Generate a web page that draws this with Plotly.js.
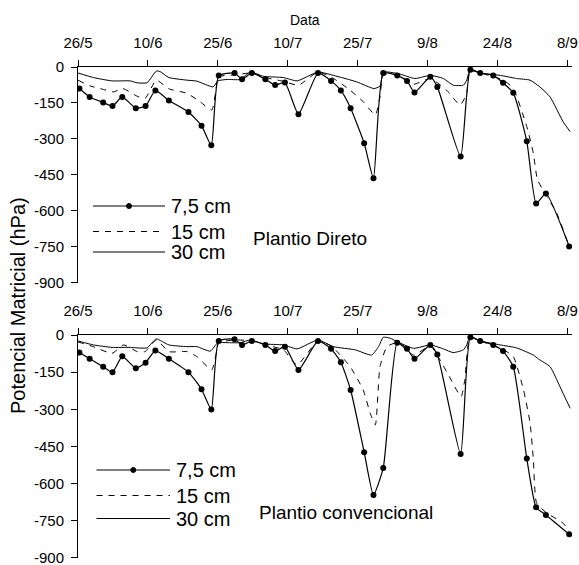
<!DOCTYPE html>
<html><head><meta charset="utf-8">
<script src="https://cdn.plot.ly/plotly-3.0.1.min.js"></script>
<style>html,body{margin:0;padding:0;background:#fff}#chart{width:579px;height:565px}</style>
</head><body><div id="chart"></div>
<script>
// x = days since 26/5
const xTickVals = [0, 15, 30, 45, 60, 75, 90, 105];
const xTickText = ['26/5', '10/6', '25/6', '10/7', '25/7', '9/8', '24/8', '8/9'];
const yTickVals = [0, -150, -300, -450, -600, -750, -900];
const yTickText = ['0', '-150', '-300', '-450', '-600', '-750', '-900'];

const seriesNames = ['7,5 cm', '15 cm', '30 cm'];
const panelNames = ['Plantio Direto', 'Plantio convencional'];

// 7,5 cm (measured points)
const days75 = [0.3, 2.5, 5.4, 7.4, 9.5, 12.4, 14.5, 16.6, 19.5, 23.7, 26.5, 28.6, 30.2, 33.6, 35.2, 37.3, 40.2, 42.3, 44.4, 47.3, 51.5,
  54.3, 56.4, 58.5, 61.4, 63.4, 65.5, 68.5, 70.6, 72.2, 75.6, 77.1, 82.1, 84.2, 86.3, 89.1, 91.2, 93.4, 96.3, 98.3, 100.4, 105.4];
const pd75 = [-90, -125, -148, -163, -125, -172, -163, -98, -140, -188, -245, -327, -36, -25, -51, -25, -51, -75, -65, -197, -25,
  -58, -98, -172, -318, -464, -25, -35, -58, -106, -41, -83, -374, -11, -25, -35, -66, -108, -310, -570, -528, -749];
const pc75 = [-71, -96, -128, -150, -86, -134, -112, -63, -96, -150, -219, -301, -24, -17, -40, -24, -40, -65, -47, -141, -24,
  -56, -110, -222, -473, -646, -537, -31, -56, -96, -40, -79, -481, -9, -24, -40, -65, -128, -499, -696, -727, -805];

// Plantio Direto, 15 cm
const pd15Days = [0, 2.6, 5.5, 7.6, 9.6, 12.7, 14.4, 16.8, 19.5, 23.4, 26.2, 28.7, 29.8, 30.2, 33.7, 37.3, 40.2, 44.1, 47.3, 51.5,
  54.5, 58.4, 61.2, 63.8, 64.8, 65.5, 68.5, 72, 75.6, 79.1, 82, 83.4, 84.1, 86.3, 91.3, 93.4, 96.3, 97.7, 98.6, 100.6, 102.7, 105.4];
const pd15 = [-55, -79, -94, -104, -90, -122, -131, -55, -91, -110, -145, -180, -69, -40, -33, -25, -44, -60, -76, -21,
  -44, -97, -145, -200, -125, -35, -32, -72, -48, -97, -159, -110, -14, -25, -55, -90, -249, -360, -471, -540, -609, -749];

// Plantio Direto, 30 cm
const pd30Days = [0, 3.3, 7.3, 11.2, 12.7, 14.8, 16.8, 17.6, 19.5, 23.4, 25.5, 29, 30, 32, 34.8, 37, 39.8, 44.1, 47, 51.5,
  54.8, 59.8, 63.5, 64.8, 65.5, 66.6, 68.8, 72.3, 75.6, 78.4, 80.5, 82.7, 83.4, 84.1, 86.3, 90.6, 94.1, 97, 99.1, 101.3, 104.1, 105.6];
const pd30 = [-25, -44, -58, -58, -66, -66, -17, -19, -44, -55, -59, -83, -58, -52, -52, -21, -39, -44, -58, -21,
  -35, -62, -90, -80, -21, -21, -28, -48, -35, -48, -76, -76, -55, -14, -25, -35, -48, -55, -83, -125, -229, -270];

// Plantio convencional, 15 cm
const pc15Days = [0, 3.3, 7.3, 9.8, 12.7, 14.4, 16.8, 19.5, 23.4, 25.5, 28.7, 29.8, 30.2, 33.7, 37.3, 40.2, 44.1, 47, 51.5,
  54.5, 58.4, 61.2, 62.7, 63.8, 64.8, 66.3, 68.5, 72, 75.6, 79.1, 82.2, 83, 84.1, 86.3, 91.3, 93.4, 95.6, 97, 97.7, 98.4, 100.6, 104.1, 105.4];
const pc15 = [-28, -47, -74, -40, -67, -67, -20, -67, -67, -87, -141, -60, -31, -20, -24, -40, -60, -121, -24,
  -47, -128, -222, -316, -363, -128, -47, -31, -81, -45, -148, -249, -181, -9, -24, -60, -87, -222, -356, -500, -678, -719, -760, -793];

// Plantio convencional, 30 cm
const pc30Days = [0, 3.3, 7.3, 11.2, 12.7, 14.8, 16.8, 19.5, 23.4, 25.5, 28.4, 30, 32, 34.8, 37, 39.8, 44.1, 47, 51.5,
  54.8, 59.5, 63, 64.5, 65.5, 67, 68.5, 72, 75.6, 78.4, 80.5, 82.7, 83.4, 84.1, 86.3, 90.6, 94.1, 97.7, 98.8, 101.3, 103.4, 105.6];
const pc30 = [-24, -40, -50, -50, -52, -52, -16, -40, -47, -47, -65, -31, -31, -31, -20, -36, -40, -56, -20,
  -47, -60, -81, -47, -9, -13, -27, -54, -40, -56, -71, -60, -40, -7, -24, -40, -52, -81, -97, -128, -208, -296];

const FONT = 'Liberation Sans, Arial, sans-serif';
const SM = 0.5;

function tr(x, y, xa, ya, kind) {
  const t = {x: x, y: y, xaxis: xa, yaxis: ya, type: 'scatter', showlegend: false, hoverinfo: 'skip'};
  if (kind === 0) { t.mode = 'lines+markers'; t.line = {color: '#000', width: 1.2, shape: 'spline', smoothing: SM}; t.marker = {color: '#000', size: 6}; }
  if (kind === 1) { t.mode = 'lines'; t.line = {color: '#000', width: 1, dash: '6px,6px', shape: 'spline', smoothing: SM}; }
  if (kind === 2) { t.mode = 'lines'; t.line = {color: '#000', width: 1, shape: 'spline', smoothing: SM}; }
  return t;
}

const data = [
  tr(pd30Days, pd30, 'x', 'y', 2), tr(pd15Days, pd15, 'x', 'y', 1), tr(days75, pd75, 'x', 'y', 0),
  tr(pc30Days, pc30, 'x2', 'y2', 2), tr(pc15Days, pc15, 'x2', 'y2', 1), tr(days75, pc75, 'x2', 'y2', 0)
];

// pixel -> paper helpers for decorations
const L = 78, R = 7, T = 67, B = 7, W = 579, H = 565;
const PW = W - L - R, PH = H - T - B;
const PX = px => (px - L) / PW;
const PY = py => (H - B - py) / PH;

function xax(anchor) {
  return {anchor: anchor, domain: [0, 1], range: [0, 106], side: 'top', showline: true, linecolor: '#000', linewidth: 1,
    ticks: 'outside', ticklen: 6, tickcolor: '#000', tickwidth: 1, tickvals: xTickVals, ticktext: xTickText,
    tickfont: {family: FONT, size: 15, color: '#000'}, showgrid: false, zeroline: false, ticklabelstandoff: 6,
    ticklabeloverflow: 'allow', fixedrange: true};
}
function yax(anchor, dom) {
  return {anchor: anchor, domain: dom, range: [-900.5, 0], showline: true, linecolor: '#000', linewidth: 1,
    ticks: 'outside', ticklen: 6, tickcolor: '#000', tickwidth: 1, tickvals: yTickVals, ticktext: yTickText,
    tickfont: {family: FONT, size: 15, color: '#000'}, showgrid: false, zeroline: false, ticklabelstandoff: 4,
    ticklabeloverflow: 'allow', fixedrange: true};
}

const shapes = [];
const annotations = [];
function legendBlock(x0, x1, yDot, yDash, ySolid, panelX, panelY, panelName) {
  const ln = (y, dash) => ({type: 'line', xref: 'paper', yref: 'paper', x0: PX(x0), x1: PX(x1), y0: PY(y), y1: PY(y),
    line: {color: '#000', width: 1, dash: dash}});
  shapes.push(ln(yDot, 'solid'), ln(yDash, '6px,6px'), ln(ySolid, 'solid'));
  const cx = (x0 + x1) / 2;
  shapes.push({type: 'circle', xref: 'paper', yref: 'paper', x0: PX(cx - 2.5), x1: PX(cx + 2.5), y0: PY(yDot + 2.5), y1: PY(yDot - 2.5),
    fillcolor: '#000', line: {color: '#000', width: 1}});
  [[yDot, seriesNames[0]], [yDash, seriesNames[1]], [ySolid, seriesNames[2]]].forEach(p => {
    annotations.push({xref: 'paper', yref: 'paper', x: PX(x1 + 4), y: PY(p[0]), text: p[1], showarrow: false,
      xanchor: 'left', yanchor: 'middle', font: {family: FONT, size: 20, color: '#000'}});
  });
  annotations.push({xref: 'paper', yref: 'paper', x: PX(panelX), y: PY(panelY), text: panelName, showarrow: false,
    xanchor: 'left', yanchor: 'middle', font: {family: FONT, size: 19, color: '#000'}});
}
legendBlock(93, 165, 206, 231.5, 252, 251, 238.5, panelNames[0]);
legendBlock(96.5, 170, 470, 495.5, 518.5, 257, 512, panelNames[1]);

annotations.push({xref: 'paper', yref: 'paper', x: PX(305), y: PY(20), text: 'Data', showarrow: false,
  xanchor: 'center', yanchor: 'middle', font: {family: FONT, size: 14, color: '#000'}});
annotations.push({xref: 'paper', yref: 'paper', x: PX(18), y: PY(306), text: 'Potencial Matricial (hPa)', showarrow: false,
  textangle: -90, xanchor: 'center', yanchor: 'middle', font: {family: FONT, size: 20, color: '#000'}});

const layout = {
  width: W, height: H, margin: {l: L, r: R, t: T, b: B, pad: 0},
  paper_bgcolor: '#fff', plot_bgcolor: '#fff', showlegend: false,
  xaxis: xax('y'), yaxis: yax('x', [PY(282.7), 1]),
  xaxis2: xax('y2'), yaxis2: yax('x2', [0, PY(335)]),
  shapes: shapes, annotations: annotations
};
Plotly.newPlot('chart', data, layout, {staticPlot: true, displayModeBar: false});
</script></body></html>
